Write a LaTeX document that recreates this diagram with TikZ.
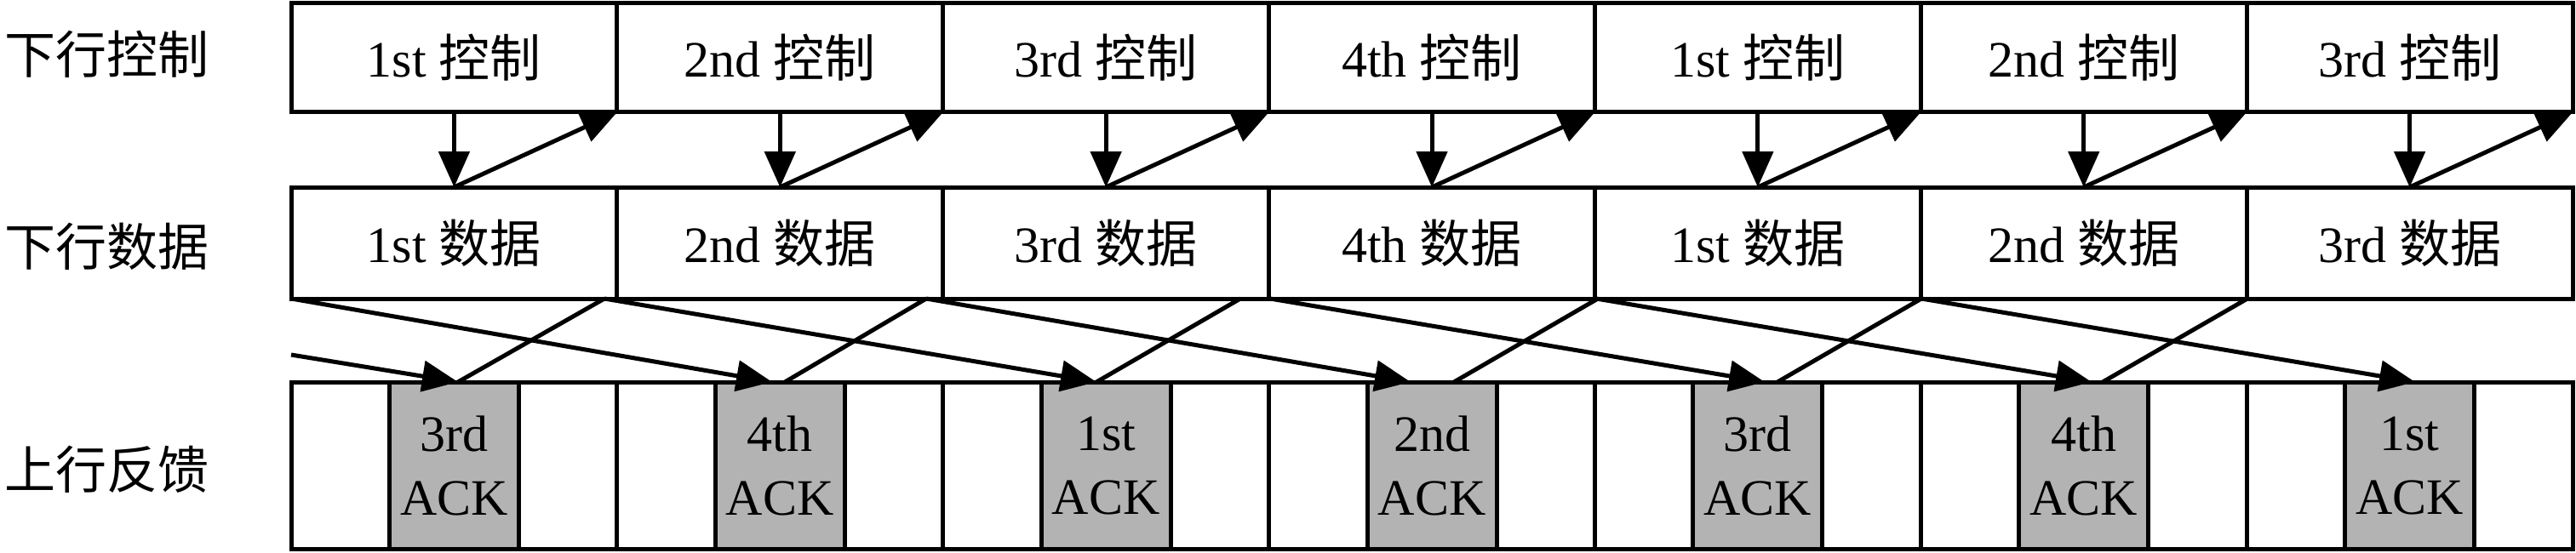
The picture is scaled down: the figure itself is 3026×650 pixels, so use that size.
\documentclass[tikz,border=0pt]{standalone}
\usepackage{fontspec}
\setmainfont{Liberation Serif}
\newfontfamily\cjk{Noto Sans CJK SC}
\usetikzlibrary{arrows.meta}
\definecolor{ackgray}{RGB}{179,179,179}
\begin{document}
\begin{tikzpicture}[x=1pt,y=-1pt,line width=5pt,
  txt/.style={font=\fontsize{60}{75}\selectfont},
  cell/.style={draw, minimum width=382.857pt, inner sep=0pt, outer sep=0pt, anchor=north west, txt},
  ackbox/.style={draw, fill=ackgray, minimum width=152pt, minimum height=196pt, inner sep=0pt, outer sep=0pt, align=center, txt},
  arr/.style={-{Triangle[length=42pt,width=36pt]}},
  lab/.style={anchor=west, inner sep=0pt, txt}]
\useasboundingbox (0,0) rectangle (3026,650);
% row labels
\node[lab] (l1) at (3,64) {\cjk 下行控制};
\node[lab] (l2) at (3,290) {\cjk 下行数据};
\node[lab] (l3) at (3,552) {\cjk 上行反馈};
% cells
\foreach \i/\n/\m in {1/1st/3rd, 2/2nd/4th, 3/3rd/1st, 4/4th/2nd, 5/1st/3rd, 6/2nd/4th, 7/3rd/1st} {
  \pgfmathsetmacro{\L}{342+(\i-1)*382.857}
  \node[cell, minimum height=128pt] (c\i) at (\L,4) {\n\ {\cjk 控制}};
  \node[cell, minimum height=131pt] (d\i) at (\L,220) {\n\ {\cjk 数据}};
  \node[cell, minimum height=196pt] (a\i) at (\L,449) {};
  \node[ackbox] (g\i) at (a\i.center) {\m\\ACK};
  \draw[arr] (c\i.south) -- (d\i.north);
  \draw[arr] (d\i.north) -- (c\i.south east);
}
% data -> ACK connectors
\coordinate (s0) at (342,417);
\foreach \k/\x in {1/342, 2/710, 3/1088, 4/1492, 5/1875, 6/2257}
  \coordinate (s\k) at (\x,351);
\foreach \k/\x in {1/538, 2/907, 3/1288, 4/1657, 5/2073, 6/2457, 7/2837}
  \coordinate (t\k) at (\x,449);
\foreach \k/\x in {1/538, 2/922, 3/1288, 4/1708, 5/2088, 6/2470}
  \coordinate (u\k) at (\x,449);
\foreach \k/\x in {1/710, 2/1088, 3/1457, 4/1877, 5/2257, 6/2640}
  \coordinate (e\k) at (\x,351);
\foreach \k [evaluate=\k as \j using int(\k+1)] in {0,...,6}
  \draw[arr] (s\k) -- (t\j);
\foreach \k in {1,...,6}
  \draw (u\k) -- (e\k);
\end{tikzpicture}
\end{document}
